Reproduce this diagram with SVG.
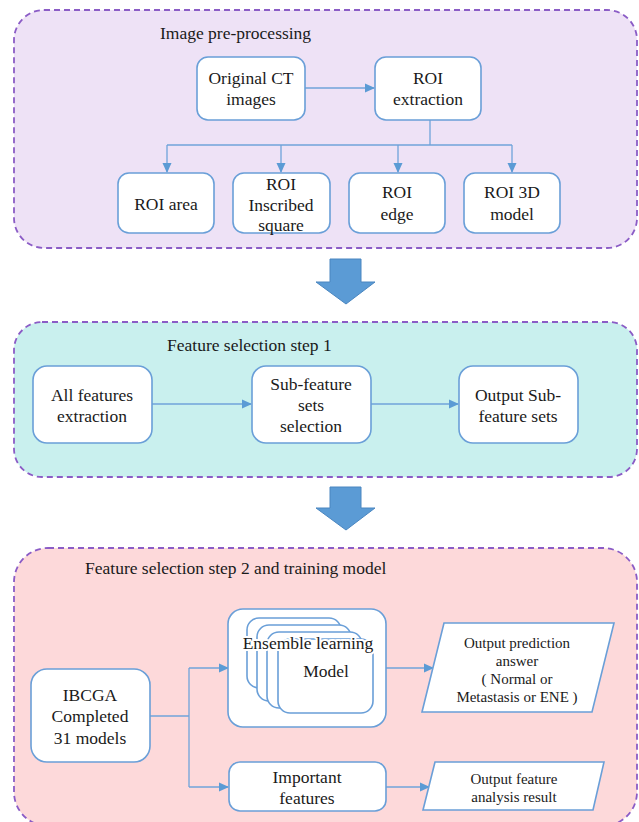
<svg xmlns="http://www.w3.org/2000/svg" width="639" height="822" viewBox="0 0 639 822">
<style>
.panel{stroke:#8b5cc6;stroke-width:1.8;stroke-dasharray:6 4}
.box{fill:#fff;stroke:#6a9fd8;stroke-width:1.6}
.t{font-family:"Liberation Serif","Times New Roman",serif;font-size:17.5px;fill:#1a1a1a;text-anchor:middle}
.ts{font-family:"Liberation Serif","Times New Roman",serif;font-size:15px;fill:#1a1a1a;text-anchor:middle}
.title{font-family:"Liberation Serif","Times New Roman",serif;font-size:17.5px;fill:#1a1a1a}
.c{fill:none;stroke:#6fa3da;stroke-width:1.3}
.big{fill:#5b9bd5;stroke:#4a86c0;stroke-width:1}
.halo{stroke:#fff;stroke-width:4;stroke-linejoin:round;paint-order:stroke}
</style>
<defs>
<marker id="ah" markerUnits="userSpaceOnUse" markerWidth="10" markerHeight="10" refX="9" refY="5" orient="auto">
<path d="M0,0.5 L10,5 L0,9.5 Z" fill="#5b9bd5"/>
</marker>
</defs>

<!-- panels -->
<g id="panel1">
<rect class="panel" x="14" y="10" width="623" height="238" rx="30" fill="#eee2f6"/>
<text class="title" x="160" y="39">Image pre-processing</text>
</g>
<g id="panel2">
<rect class="panel" x="14" y="322" width="623" height="155" rx="28" fill="#c9f0ee"/>
<text class="title" x="167" y="351">Feature selection step 1</text>
</g>
<g id="panel3">
<rect class="panel" x="14" y="548" width="623" height="278" rx="34" fill="#fdd9da"/>
<text class="title" x="85" y="574">Feature selection step 2 and training model</text>
</g>

<!-- big arrows -->
<g id="bigarrow1"><path class="big" d="M330,259 H361 V282 H375 L346,304 L316,282 H330 Z"/></g>
<g id="bigarrow2"><path class="big" d="M330,487 H361 V508 H375 L346,530 L316,508 H330 Z"/></g>

<!-- connectors -->
<g id="connectors">
<path class="c" d="M305,88 H374" marker-end="url(#ah)"/>
<path class="c" d="M430,120 V145"/>
<path class="c" d="M167,145 H512"/>
<path class="c" d="M167,145 V172" marker-end="url(#ah)"/>
<path class="c" d="M281,145 V172" marker-end="url(#ah)"/>
<path class="c" d="M398,145 V172" marker-end="url(#ah)"/>
<path class="c" d="M512,145 V172" marker-end="url(#ah)"/>
<path class="c" d="M152,404 H251" marker-end="url(#ah)"/>
<path class="c" d="M371,404 H458" marker-end="url(#ah)"/>
<path class="c" d="M150,716 H189"/>
<path class="c" d="M189,668 V787"/>
<path class="c" d="M189,668 H228" marker-end="url(#ah)"/>
<path class="c" d="M189,787 H228" marker-end="url(#ah)"/>
<path class="c" d="M386,668 H433" marker-end="url(#ah)"/>
<path class="c" d="M386,787 H429" marker-end="url(#ah)"/>
</g>

<!-- panel 1 nodes -->
<g id="orig-ct">
<rect class="box" x="197" y="57" width="108" height="63" rx="11"/>
<text class="t" x="251" y="84">Original  CT</text>
<text class="t" x="251" y="105">images</text>
</g>
<g id="roi-extraction">
<rect class="box" x="375" y="57" width="106" height="63" rx="11"/>
<text class="t" x="428" y="84">ROI</text>
<text class="t" x="428" y="105">extraction</text>
</g>
<g id="roi-area">
<rect class="box" x="118" y="173" width="96" height="60" rx="11"/>
<text class="t" x="166" y="210">ROI area</text>
</g>
<g id="roi-inscribed">
<rect class="box" x="233" y="173" width="97" height="60" rx="11"/>
<text class="t" x="281" y="190">ROI</text>
<text class="t" x="281" y="211">Inscribed</text>
<text class="t" x="281" y="231">square</text>
</g>
<g id="roi-edge">
<rect class="box" x="349" y="173" width="96" height="60" rx="11"/>
<text class="t" x="397" y="198">ROI</text>
<text class="t" x="397" y="220">edge</text>
</g>
<g id="roi-3d">
<rect class="box" x="464" y="173" width="96" height="60" rx="11"/>
<text class="t" x="512" y="198">ROI 3D</text>
<text class="t" x="512" y="220">model</text>
</g>

<!-- panel 2 nodes -->
<g id="all-features">
<rect class="box" x="33" y="366" width="119" height="77" rx="14"/>
<text class="t" x="92" y="401">All features</text>
<text class="t" x="92" y="422">extraction</text>
</g>
<g id="sub-feature-sel">
<rect class="box" x="252" y="366" width="119" height="77" rx="14"/>
<text class="t" x="311" y="390">Sub-feature</text>
<text class="t" x="311" y="411">sets</text>
<text class="t" x="311" y="432">selection</text>
</g>
<g id="output-sub">
<rect class="box" x="459" y="366" width="119" height="77" rx="14"/>
<text class="t" x="518" y="401">Output Sub-</text>
<text class="t" x="518" y="422">feature sets</text>
</g>

<!-- panel 3 nodes -->
<g id="ibcga">
<rect class="box" x="31" y="669" width="119" height="93" rx="16"/>
<text class="t" x="90" y="701">IBCGA</text>
<text class="t" x="90" y="722">Completed</text>
<text class="t" x="90" y="744">31 models</text>
</g>
<g id="ensemble">
<rect class="box" x="228" y="609" width="158" height="118" rx="15"/>
<rect class="box" x="247" y="618" width="94" height="70" rx="12"/>
<rect class="box" x="257" y="625" width="94" height="76" rx="12"/>
<rect class="box" x="267" y="632" width="95" height="76" rx="12"/>
<rect class="box" x="278" y="639" width="95" height="74" rx="12"/>
<text class="t halo" x="308" y="649">Ensemble learning</text>
<text class="t" x="326" y="677">Model</text>
</g>
<g id="important">
<rect class="box" x="229" y="762" width="157" height="49" rx="11"/>
<text class="t" x="307" y="783">Important</text>
<text class="t" x="307" y="804">features</text>
</g>
<g id="output-prediction">
<path class="box" d="M444,623 H614 L592,712 H422 Z"/>
<text class="ts" x="517" y="648">Output prediction</text>
<text class="ts" x="517" y="666">answer</text>
<text class="ts" x="517" y="684">( Normal or</text>
<text class="ts" x="517" y="702">Metastasis or ENE )</text>
</g>
<g id="output-feature">
<path class="box" d="M435,762 H604 L593,810 H423 Z"/>
<text class="ts" x="514" y="784">Output feature</text>
<text class="ts" x="514" y="802">analysis  result</text>
</g>
</svg>
